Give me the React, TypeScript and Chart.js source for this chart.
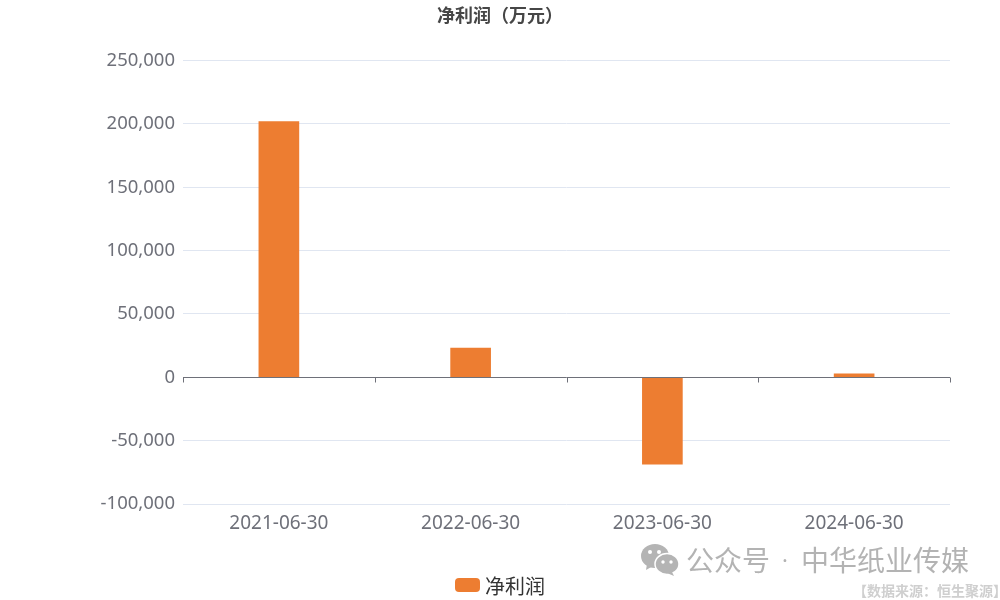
import React, { useEffect, useRef } from "react";
import { Chart, registerables } from "chart.js";

Chart.register(...registerables);

const categories = ["2021-06-30", "2022-06-30", "2023-06-30", "2024-06-30"];
const netProfit = [201900, 23000, -68600, 2800];
const seriesName = "净利润";
const chartTitle = "净利润（万元）";
const yTicks = [-100000, -50000, 0, 50000, 100000, 150000, 200000, 250000];
const watermarkLeft = "公众号";
const watermarkDot = "·";
const watermarkRight = "中华纸业传媒";
const sourceNote = "【数据来源：恒生聚源】";

const FONT = '"Noto Sans", "Noto Sans CJK SC", sans-serif';
const AXIS = "#6E7079";
const BAR = "#ED7D31";

const zeroAxis = {
  id: "zeroAxis",
  afterDatasetsDraw(chart: any) {
    const { ctx, scales } = chart;
    const y0 = Math.round(scales.y.getPixelForValue(0)) + 0.5;
    const step = (scales.x.right - scales.x.left) / categories.length;
    ctx.save();
    ctx.strokeStyle = AXIS;
    ctx.lineWidth = 1;
    ctx.beginPath();
    ctx.moveTo(scales.x.left, y0);
    ctx.lineTo(scales.x.right, y0);
    for (let i = 0; i <= categories.length; i++) {
      const x = Math.round(scales.x.left + step * i) + 0.5;
      ctx.moveTo(x, y0);
      ctx.lineTo(x, y0 + 5);
    }
    ctx.stroke();
    ctx.restore();
  },
};

const bottomLegend = {
  id: "bottomLegend",
  afterDraw(chart: any) {
    const { ctx } = chart;
    const ds = chart.data.datasets[0];
    ctx.save();
    ctx.fillStyle = ds.backgroundColor;
    ctx.beginPath();
    ctx.roundRect(455, 578, 25, 14, 4);
    ctx.fill();
    ctx.fillStyle = "#333333";
    ctx.font = `20px ${FONT}`;
    ctx.textBaseline = "middle";
    ctx.textAlign = "left";
    ctx.fillText(ds.label, 485, 588);
    ctx.restore();
  },
};

export default function App() {
  const ref = useRef<HTMLCanvasElement>(null);
  useEffect(() => {
    document.body.style.margin = "0";
    const chart = new Chart(ref.current!, {
      type: "bar",
      data: {
        labels: categories,
        datasets: [
          {
            label: seriesName,
            data: netProfit,
            backgroundColor: BAR,
            barThickness: 40,
          },
        ],
      },
      plugins: [zeroAxis, bottomLegend],
      options: {
        animation: false,
        responsive: false,
        layout: { padding: 0 },
        scales: {
          x: {
            position: "bottom",
            grid: { display: false },
            border: { display: false },
            ticks: { color: AXIS, font: { family: FONT, size: 19 }, padding: 0, maxRotation: 0 },
            afterFit(s: any) {
              s.height = 96;
            },
          },
          y: {
            min: -100000,
            max: 250000,
            afterBuildTicks(s: any) {
              s.ticks = yTicks.map((value) => ({ value }));
            },
            grid: {
              color: "#E0E6F1",
              drawTicks: false,
            },
            border: { display: false },
            ticks: {
              color: AXIS,
              font: { family: FONT, size: 18.5 },
              padding: 8,
              callback: (v: any) => Number(v).toLocaleString("en-US"),
            },
            afterFit(s: any) {
              s.width = 183;
            },
          },
          spacer: {
            position: "right",
            grid: { display: false },
            border: { display: false },
            ticks: { display: false },
            afterFit(s: any) {
              s.width = 50;
            },
          },
        },
        plugins: {
          title: {
            display: true,
            text: chartTitle,
            color: "#464646",
            font: { family: FONT, size: 18, weight: "bold" },
            padding: { top: 6, bottom: 33 },
            align: "center",
          },
          legend: { display: false },
          tooltip: { enabled: false },
        },
      } as any,
    });
    return () => chart.destroy();
  }, []);

  const wmStyle: React.CSSProperties = {
    position: "absolute",
    top: 541,
    fontFamily: '"Noto Sans CJK SC"',
    fontSize: 28,
    lineHeight: "36px",
    color: "#b3b3b3",
    whiteSpace: "nowrap",
  };

  return (
    <div style={{ position: "relative", width: 1000, height: 600, overflow: "hidden", background: "#fff" }}>
      <canvas ref={ref} width={1000} height={600} style={{ display: "block" }} />
      <svg width={40} height={34} viewBox="0 0 40 34" style={{ position: "absolute", left: 640, top: 543 }}>
        <ellipse cx={15} cy={13} rx={14} ry={12} fill="#b4b4b4" />
        <path d="M7 21 L6 27 L13 23 Z" fill="#b4b4b4" />
        <ellipse cx={27} cy={21} rx={12} ry={10.5} fill="#b4b4b4" stroke="#fff" strokeWidth={1.5} />
        <path d="M32 29 L34 33 L27 30 Z" fill="#b4b4b4" />
        <circle cx={10} cy={9} r={2} fill="#fff" />
        <circle cx={19} cy={9} r={2} fill="#fff" />
        <circle cx={23} cy={19} r={1.7} fill="#fff" />
        <circle cx={31} cy={19} r={1.7} fill="#fff" />
      </svg>
      <div style={{ ...wmStyle, left: 686 }}>{watermarkLeft}</div>
      <div style={{ ...wmStyle, left: 782, fontFamily: '"Noto Sans"', fontSize: 22 }}>{watermarkDot}</div>
      <div style={{ ...wmStyle, left: 801 }}>{watermarkRight}</div>
      <div
        style={{
          position: "absolute",
          left: 853,
          top: 581,
          fontFamily: '"Noto Sans CJK SC"',
          fontSize: 14,
          fontWeight: 700,
          lineHeight: "18px",
          color: "#cfcfcf",
          whiteSpace: "nowrap",
        }}
      >
        {sourceNote}
      </div>
    </div>
  );
}
